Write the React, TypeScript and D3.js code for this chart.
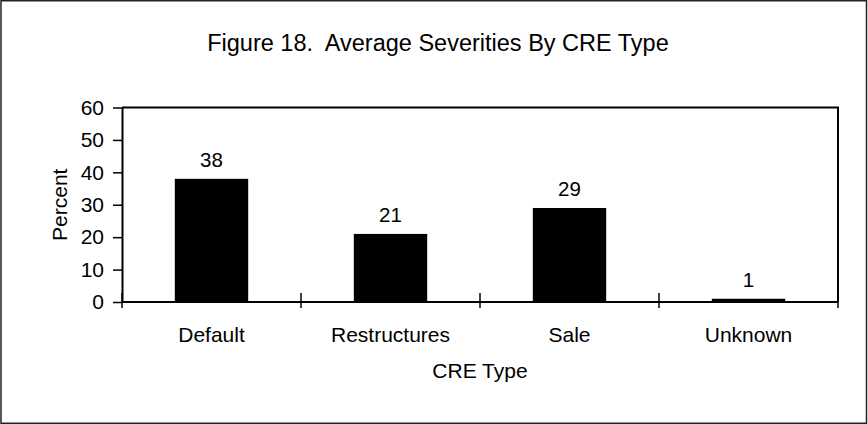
import React, { useEffect, useRef } from 'react'
import * as d3 from 'd3'

const categories = ['Default', 'Restructures', 'Sale', 'Unknown']
const severities = [38, 21, 29, 1]
const yTicks = [0, 10, 20, 30, 40, 50, 60]

const WIDTH = 868
const HEIGHT = 424
const FONT = "Arial, 'Liberation Sans', sans-serif"

export default function App() {
  const svgRef = useRef<SVGSVGElement>(null)

  useEffect(() => {
    if (!svgRef.current) return
    const svg = d3.select(svgRef.current)
    svg.selectAll('*').remove()

    const plot = { left: 122, right: 838, top: 107.5, bottom: 302 }

    const x = d3.scaleBand<string>()
      .domain(categories)
      .range([plot.left, plot.right])
      .paddingInner(0.59)
      .paddingOuter(0.295)

    const y = d3.scaleLinear().domain([0, 60]).range([plot.bottom, plot.top])

    // outer chart border
    svg.append('rect')
      .attr('x', 1).attr('y', 0.75)
      .attr('width', WIDTH - 2.5).attr('height', HEIGHT - 1.5)
      .attr('fill', '#fff')
      .attr('stroke', '#222')
      .attr('stroke-width', 1.5)

    // title
    svg.append('text')
      .attr('x', 438).attr('y', 51)
      .attr('text-anchor', 'middle')
      .style('font-family', FONT)
      .style('font-size', '23.5px')
      .style('white-space', 'pre')
      .attr('fill', '#000')
      .text('Figure 18.  Average Severities By CRE Type')

    // plot frame top and right
    svg.append('path')
      .attr('d', `M${plot.left},${plot.top}H${plot.right}V${plot.bottom}`)
      .attr('fill', 'none')
      .attr('stroke', '#000')
      .attr('stroke-width', 2)

    // bars
    svg.append('g')
      .selectAll('rect')
      .data(severities)
      .enter()
      .append('rect')
      .attr('x', (_d, i) => x(categories[i]) as number)
      .attr('y', d => y(d))
      .attr('width', x.bandwidth())
      .attr('height', d => y(0) - y(d))
      .attr('fill', '#000')

    // value labels
    svg.append('g')
      .selectAll('text')
      .data(severities)
      .enter()
      .append('text')
      .attr('x', (_d, i) => (x(categories[i]) as number) + x.bandwidth() / 2)
      .attr('y', d => y(d) - 12)
      .attr('text-anchor', 'middle')
      .style('font-family', FONT)
      .style('font-size', '20.5px')
      .text(d => d)

    // y axis
    const yAxis = svg.append('g')
      .attr('transform', `translate(${plot.left},0)`)
      .call(d3.axisLeft(y).tickValues(yTicks).tickSize(9).tickPadding(9).tickSizeOuter(0))
    yAxis.select('.domain').attr('stroke', '#000').attr('stroke-width', 2)
    yAxis.selectAll('.tick line').attr('stroke', '#000').attr('stroke-width', 1.5)
    yAxis.selectAll('.tick text')
      .attr('fill', '#000')
      .style('font-family', FONT)
      .style('font-size', '21px')

    // x axis line with crossing ticks at category boundaries
    svg.append('line')
      .attr('x1', plot.left).attr('x2', plot.right)
      .attr('y1', plot.bottom).attr('y2', plot.bottom)
      .attr('stroke', '#000').attr('stroke-width', 2)

    const boundaries = d3.range(categories.length + 1).map(i => plot.left + i * x.step())
    svg.append('g')
      .selectAll('line')
      .data(boundaries)
      .enter()
      .append('line')
      .attr('x1', d => d).attr('x2', d => d)
      .attr('y1', plot.bottom - 9).attr('y2', plot.bottom + 6)
      .attr('stroke', '#000').attr('stroke-width', 1.5)

    // category labels
    svg.append('g')
      .selectAll('text')
      .data(categories)
      .enter()
      .append('text')
      .attr('x', d => (x(d) as number) + x.bandwidth() / 2)
      .attr('y', 342)
      .attr('text-anchor', 'middle')
      .style('font-family', FONT)
      .style('font-size', '21px')
      .text(d => d)

    // axis titles
    svg.append('text')
      .attr('x', (plot.left + plot.right) / 2).attr('y', 378)
      .attr('text-anchor', 'middle')
      .style('font-family', FONT)
      .style('font-size', '21px')
      .text('CRE Type')

    svg.append('text')
      .attr('transform', `translate(66.5,${(plot.top + plot.bottom) / 2}) rotate(-90)`)
      .attr('text-anchor', 'middle')
      .style('font-family', FONT)
      .style('font-size', '21px')
      .text('Percent')
  }, [])

  return (
    <svg
      ref={svgRef}
      width={WIDTH}
      height={HEIGHT}
      style={{ position: 'absolute', left: 0, top: 0, display: 'block' }}
    />
  )
}
